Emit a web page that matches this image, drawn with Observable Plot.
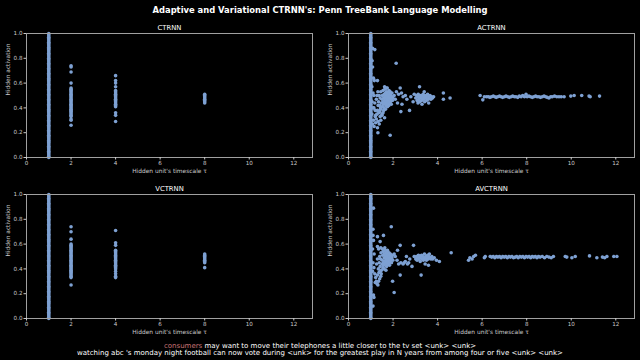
<!DOCTYPE html>
<html><head><meta charset="utf-8">
<script src="https://cdn.jsdelivr.net/npm/d3@7"></script>
<script src="https://cdn.jsdelivr.net/npm/@observablehq/plot@0.6"></script>
<style>
body{margin:0;background:#000;}
#fig{position:relative;width:640px;height:360px;background:#000;font-family:"DejaVu Sans",sans-serif;overflow:hidden}
.panel{position:absolute}
#title{position:absolute;left:0;width:640px;top:5px;line-height:11px;text-align:center;color:#fff;font-weight:bold;font-size:8.4px;white-space:nowrap}
.caption{position:absolute;left:0;width:640px;text-align:center;color:#fff;font-size:7px;line-height:7px;white-space:nowrap}
</style></head>
<body>
<div id="fig"></div>
<script>
const figTitle = "Adaptive and Variational CTRNN's: Penn TreeBank Language Modelling";
const panelNames = ["CTRNN", "ACTRNN", "VCTRNN", "AVCTRNN"];
const xLabel = "Hidden unit's timescale τ";
const yLabel = "Hidden activation";
const xTicks = [0, 2, 4, 6, 8, 10, 12];
const yTicks = [0, 0.2, 0.4, 0.6, 0.8, 1.0];
const captionWord = "consumers";
const captionRest1 = " may want to move their telephones a little closer to the tv set <unk> <unk>";
const captionLine2 = "watching abc 's monday night football can now vote during <unk> for the greatest play in N years from among four or five <unk> <unk>";

// activations of the units sitting at tau = 1 (dense column, same in every panel)
const columnActivations = [0.00,0.01,0.02,0.03,0.04,0.05,0.06,0.07,0.08,0.09,0.10,0.11,0.12,0.13,0.14,0.15,0.16,0.17,0.18,0.19,
 0.20,0.21,0.22,0.23,0.24,0.25,0.26,0.27,0.28,0.29,0.30,0.31,0.32,0.33,0.34,0.35,0.36,0.37,0.38,0.39,
 0.40,0.41,0.42,0.43,0.44,0.45,0.46,0.47,0.48,0.49,0.50,0.51,0.52,0.53,0.54,0.55,0.56,0.57,0.58,0.59,
 0.60,0.61,0.62,0.63,0.64,0.65,0.66,0.67,0.68,0.69,0.70,0.71,0.72,0.73,0.74,0.75,0.76,0.77,0.78,0.79,
 0.80,0.81,0.82,0.83,0.84,0.85,0.86,0.87,0.88,0.89,0.90,0.91,0.92,0.93,0.94,0.95,0.96,0.97,0.98,0.99,1.00];

// CTRNN: fixed timescales 2, 4, 8
const ctrnnTau2 = [0.74,0.73,0.69,0.60,0.56,0.55,0.54,0.53,0.52,0.51,0.50,0.49,0.48,0.47,0.46,0.45,0.44,0.43,0.42,0.41,0.40,0.39,0.38,0.37,0.36,0.35,0.34,0.33,0.31,0.30,0.26];
const ctrnnTau4 = [0.66,0.62,0.60,0.57,0.54,0.53,0.52,0.51,0.50,0.49,0.48,0.47,0.46,0.45,0.44,0.43,0.42,0.41,0.36,0.34,0.29];
const ctrnnTau8 = [0.51,0.50,0.49,0.48,0.47,0.46,0.45,0.44];

// VCTRNN: fixed timescales 2, 4, 8
const vctrnnTau2 = [0.74,0.70,0.64,0.60,0.59,0.58,0.57,0.56,0.55,0.54,0.53,0.52,0.51,0.50,0.49,0.48,0.47,0.46,0.45,0.44,0.43,0.42,0.41,0.40,0.39,0.38,0.37,0.36,0.35,0.34,0.33,0.27];
const vctrnnTau4 = [0.71,0.61,0.59,0.55,0.54,0.53,0.52,0.51,0.50,0.49,0.48,0.47,0.46,0.45,0.44,0.43,0.42,0.41,0.40,0.38,0.36,0.34,0.33];
const vctrnnTau8 = [0.52,0.51,0.50,0.49,0.48,0.47,0.46,0.45,0.41];

// ACTRNN: [tau, activation]
const actrnnPoints = [
 [1.08,0.88],[1.18,0.87],[1.06,0.78],[1.08,0.73],[1.12,0.64],[1.16,0.62],[1.30,0.62],[1.05,0.57],[1.10,0.52],[1.14,0.50],
 [1.06,0.45],[1.10,0.40],[1.05,0.35],[1.12,0.30],[1.08,0.27],[1.15,0.25],[1.14,0.40],[1.18,0.44],[1.20,0.38],[1.22,0.34],
 [1.20,0.33],[1.25,0.31],[1.28,0.35],[1.33,0.29],[1.38,0.27],[1.42,0.33],[1.50,0.34],[1.62,0.32],[1.30,0.24],[1.22,0.28],[1.45,0.30],
 [1.35,0.45],[1.38,0.50],[1.40,0.42],[1.42,0.48],[1.45,0.53],[1.45,0.39],[1.48,0.44],[1.50,0.47],[1.52,0.50],[1.52,0.41],
 [1.55,0.54],[1.55,0.45],[1.57,0.43],[1.58,0.48],[1.60,0.51],[1.60,0.40],[1.62,0.46],[1.63,0.55],[1.64,0.49],[1.65,0.44],
 [1.66,0.52],[1.67,0.47],[1.68,0.42],[1.69,0.50],[1.70,0.45],[1.71,0.53],[1.72,0.48],[1.73,0.43],[1.74,0.56],[1.75,0.46],
 [1.76,0.50],[1.77,0.44],[1.78,0.52],[1.79,0.47],[1.80,0.49],[1.81,0.42],[1.82,0.54],[1.83,0.46],[1.84,0.51],[1.85,0.44],
 [1.86,0.48],[1.87,0.53],[1.88,0.45],[1.90,0.50],[1.91,0.47],[1.92,0.43],[1.94,0.49],[1.95,0.52],[1.97,0.46],[1.99,0.48],
 [1.30,0.38],[1.33,0.42],[1.36,0.36],[1.40,0.37],[1.44,0.40],[1.25,0.47],[1.28,0.50],[1.32,0.53],[1.58,0.38],[1.66,0.39],
 [1.75,0.41],[1.70,0.56],[1.62,0.57],[1.55,0.36],[1.50,0.35],[2.14,0.76],[1.87,0.18],[1.32,0.20],
 [2.05,0.50],[2.10,0.47],[2.15,0.53],[2.20,0.44],[2.25,0.51],[2.32,0.56],[2.38,0.52],[2.35,0.37],[2.40,0.43],[2.45,0.49],
 [2.55,0.50],[2.62,0.47],[2.74,0.38],[2.80,0.49],[2.90,0.45],[2.95,0.51],
 [3.02,0.48],[3.06,0.50],[3.08,0.46],[3.10,0.49],[3.13,0.51],[3.15,0.47],[3.18,0.49],[3.20,0.45],[3.22,0.50],[3.25,0.48],
 [3.28,0.46],[3.30,0.50],[3.32,0.48],[3.35,0.51],[3.37,0.47],[3.40,0.49],[3.42,0.45],[3.45,0.50],[3.48,0.48],[3.50,0.46],
 [3.53,0.49],[3.55,0.51],[3.58,0.47],[3.60,0.49],[3.63,0.48],[3.66,0.50],[3.70,0.47],[3.73,0.49],[3.77,0.48],[3.82,0.49],
 [3.19,0.57],[3.30,0.43],[3.60,0.44],[3.40,0.53],[3.12,0.44],
 [4.26,0.52],[4.26,0.47],[4.56,0.48],[5.91,0.50],[6.03,0.465],[6.10,0.49],
 [6.20,0.49],[6.28,0.49],[6.35,0.485],[6.42,0.49],[6.50,0.495],[6.57,0.49],[6.63,0.485],[6.70,0.49],[6.78,0.495],[6.85,0.49],
 [6.92,0.485],[7.00,0.49],[7.07,0.495],[7.15,0.49],[7.22,0.485],[7.30,0.49],[7.37,0.495],[7.45,0.49],[7.52,0.49],[7.60,0.485],
 [7.67,0.495],[7.75,0.49],[7.82,0.50],[7.90,0.49],[7.97,0.51],[8.02,0.49],[8.10,0.495],[8.17,0.49],[8.25,0.485],[8.32,0.49],
 [8.40,0.495],[8.47,0.49],[8.55,0.49],[8.62,0.485],[8.70,0.49],[8.78,0.495],[8.85,0.49],[8.92,0.485],[9.00,0.48],[9.08,0.49],
 [9.15,0.49],[9.25,0.495],[9.35,0.49],[9.45,0.49],[9.55,0.49],[9.68,0.49],
 [9.98,0.495],[10.13,0.50],[10.47,0.50],[10.80,0.495],[10.85,0.49],[11.27,0.495]
];

// AVCTRNN: [tau, activation]
const avctrnnPoints = [
 [1.12,0.89],[1.10,0.72],[1.10,0.67],[1.12,0.63],[1.30,0.66],[1.57,0.67],[1.42,0.62],[1.92,0.74],[1.98,0.30],[2.05,0.21],
 [1.12,0.19],[1.14,0.17],[1.10,0.10],[1.08,0.56],[1.15,0.52],[1.10,0.45],[1.14,0.41],[1.08,0.38],[1.30,0.58],[1.35,0.56],
 [1.18,0.36],[1.22,0.33],[1.25,0.30],[1.28,0.28],[1.32,0.27],[1.35,0.30],[1.40,0.32],[1.30,0.35],[1.45,0.34],[1.20,0.29],
 [1.38,0.45],[1.40,0.50],[1.42,0.42],[1.44,0.48],[1.46,0.53],[1.48,0.39],[1.50,0.44],[1.52,0.47],[1.54,0.51],[1.55,0.41],
 [1.56,0.54],[1.57,0.45],[1.58,0.43],[1.60,0.49],[1.61,0.52],[1.62,0.46],[1.63,0.55],[1.64,0.49],[1.65,0.44],[1.66,0.51],
 [1.67,0.47],[1.68,0.53],[1.69,0.45],[1.70,0.50],[1.71,0.42],[1.72,0.48],[1.73,0.54],[1.74,0.46],[1.75,0.51],[1.76,0.44],
 [1.77,0.49],[1.78,0.52],[1.79,0.47],[1.80,0.50],[1.81,0.45],[1.82,0.53],[1.83,0.48],[1.84,0.43],[1.85,0.51],[1.86,0.46],
 [1.87,0.49],[1.88,0.52],[1.90,0.47],[1.91,0.50],[1.93,0.45],[1.95,0.49],[1.97,0.51],[1.99,0.47],[1.34,0.40],[1.37,0.37],
 [1.42,0.38],[1.47,0.36],[1.60,0.40],[1.68,0.39],[1.52,0.56],[1.63,0.57],[1.75,0.55],[1.30,0.48],[1.26,0.44],[1.45,0.57],
 [2.32,0.59],[2.92,0.59],[2.32,0.35],[2.10,0.50],[2.18,0.47],[2.25,0.44],[2.35,0.45],[2.45,0.44],[2.55,0.46],[2.60,0.50],
 [2.65,0.44],[2.75,0.48],[2.85,0.42],[2.95,0.50],[2.05,0.52],[2.20,0.55],[2.50,0.45],[2.70,0.45],
 [3.02,0.48],[3.05,0.50],[3.08,0.47],[3.11,0.49],[3.14,0.51],[3.17,0.48],[3.20,0.50],[3.22,0.46],[3.25,0.49],[3.28,0.51],
 [3.30,0.48],[3.33,0.50],[3.36,0.47],[3.38,0.49],[3.41,0.52],[3.44,0.48],[3.47,0.50],[3.50,0.47],[3.52,0.49],[3.55,0.51],
 [3.58,0.48],[3.60,0.50],[3.63,0.52],[3.66,0.49],[3.70,0.48],[3.74,0.50],[3.78,0.48],[3.85,0.49],
 [3.26,0.35],[3.44,0.44],[3.59,0.43],[4.08,0.46],[3.95,0.47],[4.61,0.53],
 [5.39,0.47],[5.45,0.49],[5.55,0.48],[5.62,0.50],[5.70,0.51],[6.10,0.49],[6.14,0.50],
 [6.36,0.50],[6.43,0.495],[6.50,0.50],[6.57,0.49],[6.64,0.50],[6.71,0.495],[6.78,0.50],[6.85,0.49],[6.92,0.50],[6.99,0.495],
 [7.06,0.50],[7.13,0.49],[7.20,0.50],[7.27,0.495],[7.34,0.50],[7.41,0.49],[7.48,0.495],[7.55,0.50],[7.62,0.49],[7.69,0.50],
 [7.76,0.495],[7.83,0.50],[7.90,0.49],[7.97,0.50],[8.04,0.495],[8.11,0.50],[8.18,0.49],[8.25,0.50],[8.32,0.495],[8.39,0.50],
 [8.46,0.49],[8.53,0.50],[8.60,0.495],[8.70,0.50],[8.80,0.49],[8.90,0.50],[9.00,0.495],[9.10,0.49],[9.20,0.50],
 [9.73,0.50],[9.80,0.495],[10.03,0.49],[10.18,0.50],[10.82,0.505],[11.15,0.49],[11.40,0.495],[11.50,0.49],[11.60,0.50],
 [11.91,0.50],[12.05,0.50]
];

const fig = document.getElementById("fig");
const dotColor = "#7ea1d3";

function fixedPoints(t2, t4, t8) {
  return [...t2.map(a => [2, a]), ...t4.map(a => [4, a]), ...t8.map(a => [8, a])];
}

function panel(points, name, left, top, ml, mr, mt, mb) {
  const all = columnActivations.map(a => [1, a]).concat(points);
  const svg = Plot.plot({
    width: 320, height: 180,
    marginLeft: ml, marginRight: mr, marginTop: mt, marginBottom: mb,
    style: {background: "transparent", color: "#cccccc", fontFamily: "DejaVu Sans", fontSize: "5.6px", overflow: "visible"},
    x: {domain: [0, 12.84]},
    y: {domain: [0, 1]},
    marks: [
      Plot.dot(all, {x: d => d[0], y: d => d[1], r: 1.8, fill: dotColor, stroke: null}),
      Plot.frame({stroke: "#a0a0a0", strokeWidth: 1}),
      Plot.axisX({ticks: xTicks, tickSize: 2.5, tickPadding: 1.5, tickFormat: d => String(d), label: null}),
      Plot.axisY({ticks: yTicks, tickSize: 2.5, tickPadding: 1.5, tickFormat: d3.format(".1f"), label: null}),
      Plot.text([xLabel], {text: d => d, frameAnchor: "bottom", dy: 13.7, lineAnchor: "middle", fontSize: 5.9, fill: "#cccccc"}),
      Plot.text([yLabel], {text: d => d, frameAnchor: "left", dx: -18.4, rotate: -90, fontSize: 5.9, fill: "#cccccc"}),
      Plot.text([name], {text: d => d, frameAnchor: "top", dy: -5.4, lineAnchor: "middle", fontSize: 6.8, fill: "#ffffff"})
    ]
  });
  svg.classList.add("panel");
  svg.style.left = left + "px";
  svg.style.top = top + "px";
  fig.appendChild(svg);
}

panel(fixedPoints(ctrnnTau2, ctrnnTau4, ctrnnTau8), panelNames[0], 0, 0, 26, 8, 33, 23);
panel(actrnnPoints, panelNames[1], 320, 0, 28, 6, 33, 23);
panel(fixedPoints(vctrnnTau2, vctrnnTau4, vctrnnTau8), panelNames[2], 0, 180, 26, 8, 14, 42);
panel(avctrnnPoints, panelNames[3], 320, 180, 28, 6, 14, 42);

const t = document.createElement("div");
t.id = "title"; t.textContent = figTitle; fig.appendChild(t);

const c1 = document.createElement("div");
c1.className = "caption"; c1.style.top = "343.2px";
const w = document.createElement("span"); w.style.color = "#c87474"; w.textContent = captionWord;
c1.appendChild(w); c1.appendChild(document.createTextNode(captionRest1));
fig.appendChild(c1);
const c2 = document.createElement("div");
c2.className = "caption"; c2.style.top = "350.2px"; c2.textContent = captionLine2;
fig.appendChild(c2);
</script>
</body></html>
